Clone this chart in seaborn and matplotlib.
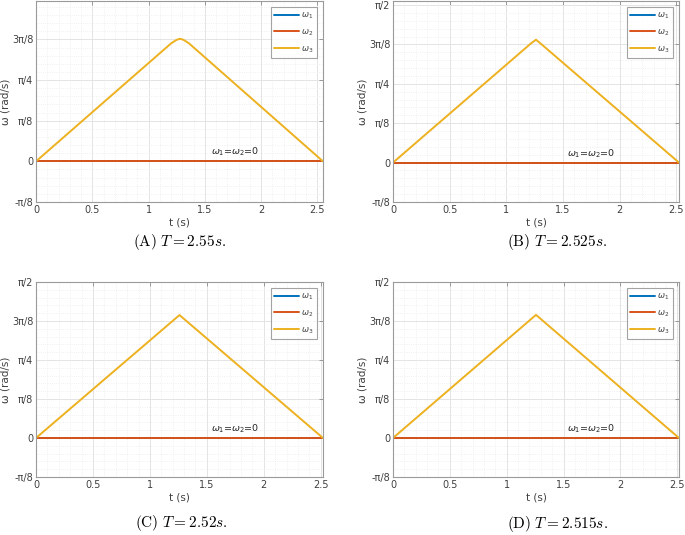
import numpy as np
import matplotlib
matplotlib.use("Agg")
import matplotlib.pyplot as plt
from matplotlib.ticker import MultipleLocator
import seaborn as sns

sns.set_theme(style="whitegrid")
plt.rcParams['font.family'] = ['DejaVu Sans']
plt.rcParams['mathtext.fontset'] = 'cm'

# ---- data ----
periods = [2.55, 2.525, 2.52, 2.515]
panel_tags = ['A', 'B', 'C', 'D']

# omega_3 profile (triangle, slightly rounded top in A and B), one per panel
w3_t = [
    [0, 1.20, 1.25, 1.28, 1.31, 1.36, 2.55],
    [0, 1.22, 1.2625, 1.30, 2.525],
    [0, 1.26, 2.52],
    [0, 1.2575, 2.515],
]
w3_v = [
    [0, 1.14, 1.175, 1.185, 1.175, 1.14, 0],
    [0, 1.19, 1.225, 1.19, 0],
    [0, 1.238, 0],
    [0, 1.24, 0],
]

ytick_vals = [-np.pi / 8, 0, np.pi / 8, np.pi / 4, 3 * np.pi / 8, np.pi / 2]
ytick_labels = ['-π/8', '0', 'π/8', 'π/4', '3π/8', 'π/2']
xtick_vals = [0, 0.5, 1, 1.5, 2, 2.5]
xtick_labels = ['0', '0.5', '1', '1.5', '2', '2.5']
y_top = [1.55, np.pi / 2 + 0.04, np.pi / 2, np.pi / 2]

colors = ['#0072BD', '#D95319', '#EDB120']
series_names = [r'$\omega_1$', r'$\omega_2$', r'$\omega_3$']

W, H = 685, 535
fig = plt.figure(figsize=(W / 100, H / 100), dpi=100)


def px_rect(l, t, r, b):
    return [l / W, 1 - b / H, (r - l) / W, (b - t) / H]


# axes boxes in pixels (left, top, right, bottom)
boxes = [(36, 1, 323, 202), (393, 1, 679, 202),
         (36, 282, 323, 477), (393, 282, 679, 477)]
caption_pos = [(180, 242), (557, 242), (181, 523), (557, 524)]

for i, T in enumerate(periods):
    ax = fig.add_axes(px_rect(*boxes[i]))
    t_zero = [0, T]
    w_zero = [0, 0]
    sns.lineplot(x=t_zero, y=w_zero, color=colors[0], lw=1.4, ax=ax,
                 label=series_names[0])
    sns.lineplot(x=t_zero, y=w_zero, color=colors[1], lw=1.4, ax=ax,
                 label=series_names[1])
    sns.lineplot(x=w3_t[i], y=w3_v[i], color=colors[2], lw=1.4, ax=ax,
                 label=series_names[2], sort=False)

    ax.set_xlim(0, T)
    ax.set_ylim(-np.pi / 8, y_top[i])
    ax.set_xticks(xtick_vals)
    ax.set_xticklabels(xtick_labels)
    # only keep y ticks that fall inside the limits
    keep = [k for k, v in enumerate(ytick_vals) if v <= y_top[i] + 1e-9]
    ax.set_yticks([ytick_vals[k] for k in keep])
    ax.set_yticklabels([ytick_labels[k] for k in keep])
    ax.xaxis.set_minor_locator(MultipleLocator(0.1))
    ax.yaxis.set_minor_locator(MultipleLocator(np.pi / 40))

    ax.grid(which='major', color='#e4e4e4', lw=0.7, ls='-')
    ax.grid(which='minor', color='#ececec', lw=0.6, ls=':')
    ax.tick_params(which='major', direction='in', length=3, width=0.6,
                   top=True, right=True, labelsize=7, colors='#8c8c8c',
                   labelcolor='#404040', pad=2)
    ax.tick_params(which='minor', length=0)
    for sp in ax.spines.values():
        sp.set_color('#9a9a9a')
        sp.set_linewidth(0.8)
    ax.set_facecolor('white')

    ax.set_xlabel('t (s)', fontsize=7.5, color='#404040', labelpad=2)
    ax.set_ylabel('ω (rad/s)', fontsize=7.5, color='#404040')
    ax.yaxis.set_label_coords(-0.088, 0.5)

    ax.text(T * 0.61, 0.03, r'$\omega_1$=$\omega_2$=0', fontsize=6.8,
            color='#262626', ha='left', va='bottom',
            math_fontfamily='dejavusans')

    leg = ax.legend(loc='upper right', fontsize=6, frameon=True, fancybox=False,
                    handlelength=3.0, borderpad=0.45, labelspacing=0.75,
                    handletextpad=0.2, borderaxespad=0.7)
    leg.get_frame().set_edgecolor('#8c8c8c')
    leg.get_frame().set_linewidth(0.8)
    for txt in leg.get_texts():
        txt.set_color('#404040')
        txt.set_math_fontfamily('dejavusans')

    cx, cy = caption_pos[i]
    fig.text(cx / W, 1 - cy / H,
             r'$\mathrm{(' + panel_tags[i] + r')}\ T = ' + f'{T}' + r's.$',
             fontsize=11, ha='center', va='center', color='black')

fig.savefig('out.png', dpi=100, facecolor='white')
